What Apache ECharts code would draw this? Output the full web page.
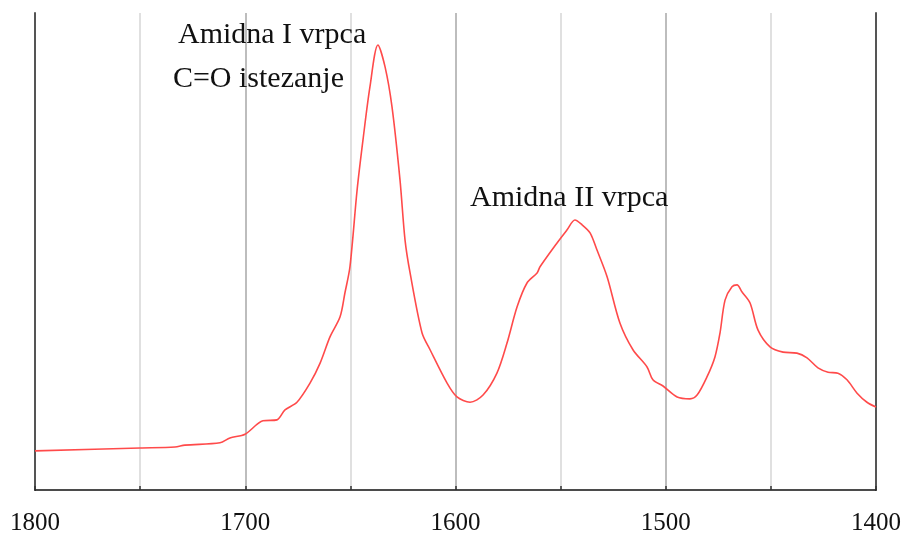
<!DOCTYPE html>
<html>
<head>
<meta charset="utf-8">
<title>Amidne vrpce</title>
<script src="https://cdn.jsdelivr.net/npm/echarts@6/dist/echarts.min.js"></script>
<style>
  html, body { margin: 0; padding: 0; background: #fff; }
  #chart { width: 902px; height: 533px; }
</style>
</head>
<body>
<div id="chart"></div>
<script>
// wavenumber (cm-1) and relative absorbance (arbitrary units, 0-100)
var wavenumbers = [1800, 1750, 1733.4, 1728.7, 1712, 1707.3, 1700.1, 1691.6, 1684.9, 1681.1,
  1675.4, 1669.2, 1664.4, 1659.7, 1654.9, 1652.6, 1650.2, 1646.8, 1644, 1640.7,
  1636.9, 1633.5, 1630.2, 1626.4, 1624, 1621.6, 1615.9, 1612.1, 1604, 1599.3,
  1593.1, 1586.9, 1580.3, 1575.5, 1570.7, 1566, 1561.2, 1559.8, 1551.7, 1547,
  1543.2, 1539.8, 1536, 1532.7, 1527.9, 1521.8, 1515.6, 1508.9, 1506.1, 1501.3,
  1494.6, 1488.5, 1485.1, 1480.4, 1476.6, 1474.2, 1471.8, 1468.5, 1466.1, 1463.7,
  1459.9, 1456.1, 1450.4, 1444.2, 1437.6, 1432.8, 1427.6, 1422.8, 1418.1, 1413.8,
  1409, 1404.3, 1400];
var absorbance = [8.2, 8.8, 9.0, 9.4, 9.9, 10.9, 11.7, 14.5, 14.7, 16.8,
  18.4, 22.4, 26.6, 32.1, 36.3, 41.3, 46.8, 62.9, 73.4, 84.5,
  93.3, 88.7, 80.3, 65.0, 52.4, 45.5, 32.9, 29.4, 22.4, 19.5,
  18.4, 19.9, 24.5, 30.8, 38.4, 43.4, 45.5, 46.8, 51.8, 54.5,
  56.6, 55.6, 53.9, 50.3, 44.7, 35.0, 29.4, 25.8, 23.1, 21.8,
  19.5, 19.1, 19.9, 23.7, 27.9, 32.9, 39.8, 42.6, 43.0, 41.5,
  39.2, 33.5, 30.0, 28.9, 28.7, 27.7, 25.6, 24.7, 24.5, 23.1,
  20.3, 18.4, 17.4];

// annotation texts, anchored at (wavenumber, absorbance) of their lower left corner
var noteTexts = ['Amidna I vrpca', 'C=O istezanje', 'Amidna II vrpca'];
var noteWavenumbers = [1732, 1734.4, 1593.1];
var noteLevels = [92.2, 83.0, 58.0];

var serif = '"Liberation Serif", "DejaVu Serif", serif';

var chart = echarts.init(document.getElementById('chart'));

var points = wavenumbers.map(function(w, i) { return [w, absorbance[i]]; });

chart.setOption({
  animation: false,
  backgroundColor: '#fff',
  grid: { left: 35, right: 26, top: 13, bottom: 43, containLabel: false, outerBoundsMode: 'none' },
  xAxis: {
    type: 'value',
    inverse: true,
    min: 1400,
    max: 1800,
    interval: 50,
    axisLine: { show: true, onZero: false, lineStyle: { color: '#111', width: 1.5 } },
    axisTick: { show: true, inside: true, length: 4, lineStyle: { color: '#333', width: 1.5 } },
    axisLabel: {
      color: '#111',
      fontFamily: serif,
      fontSize: 25,
      margin: 21,
      formatter: function(v) { return v % 100 === 0 ? String(v) : ''; }
    },
    splitLine: { show: true, lineStyle: { color: ['#bdbdbd', '#e0e0e0'], width: 2 } }
  },
  yAxis: [{
    type: 'value',
    min: 0,
    max: 100,
    axisLine: { show: true, lineStyle: { color: '#555', width: 2 } },
    axisTick: { show: false },
    axisLabel: { show: false },
    splitLine: { show: false }
  }, {
    type: 'value',
    position: 'right',
    min: 0,
    max: 100,
    axisLine: { show: true, lineStyle: { color: '#555', width: 2 } },
    axisTick: { show: false },
    axisLabel: { show: false },
    splitLine: { show: false }
  }],
  series: [{
    type: 'line',
    data: points,
    showSymbol: false,
    smooth: 0.3,
    lineStyle: { color: '#ff4a4a', width: 1.6 },
    z: 3
  }]
});

// place annotations through the axis scales
chart.setOption({
  graphic: noteTexts.map(function(t, i) {
    var p = chart.convertToPixel({ gridIndex: 0 }, [noteWavenumbers[i], noteLevels[i]]);
    return {
      type: 'text',
      x: p[0],
      y: p[1],
      z: 10,
      style: {
        text: t,
        fill: '#111',
        font: '30px ' + serif,
        textAlign: 'left',
        textVerticalAlign: 'bottom'
      }
    };
  })
});
</script>
</body>
</html>
